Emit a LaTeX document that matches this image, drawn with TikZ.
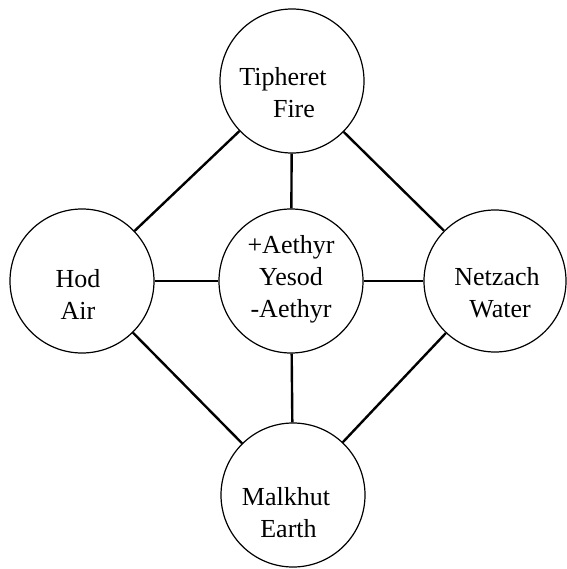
\documentclass[tikz,border=0pt]{standalone}
\usepackage{fontspec}
\setmainfont{Liberation Serif}
\begin{document}
\begin{tikzpicture}[x=1pt,y=1pt,
  sephira/.style={circle,draw=black,line width=1.2pt,minimum size=144pt,inner sep=0pt},
  label text/.style={align=center,inner sep=0pt,font=\fontsize{26}{32}\selectfont},
  path line/.style={line width=2.4pt}]
\useasboundingbox (0,0) rectangle (566,-569);
\node[sephira] (tip) at (292,-81) {};
\node[sephira] (hod) at (82,-281) {};
\node[sephira] (yes) at (291,-281) {};
\node[sephira,minimum size=142pt] (net) at (495,-281) {};
\node[sephira] (mal) at (293,-495) {};
\node[label text] (tipT) at (283,-92.6) {Tipheret\\\hspace*{22pt}Fire};
\node[label text] (hodT) at (78,-294) {Hod\\Air};
\node[label text] (yesT) at (291,-279) {+Aethyr\\Yesod\\-Aethyr};
\node[label text] (netT) at (497,-292.6) {Netzach\\\hspace*{6pt}Water};
\node[label text] (malT) at (286,-512.6) {Malkhut\\\hspace*{5pt}Earth};
\draw[path line] (tip) -- (hod);
\draw[path line] (tip) -- (net);
\draw[path line] (tip) -- (yes);
\draw[path line] (hod) -- (yes);
\draw[path line] (yes) -- (net);
\draw[path line] (yes) -- (mal);
\draw[path line] (hod) -- (mal);
\draw[path line] (net) -- (mal);
\end{tikzpicture}
\end{document}
